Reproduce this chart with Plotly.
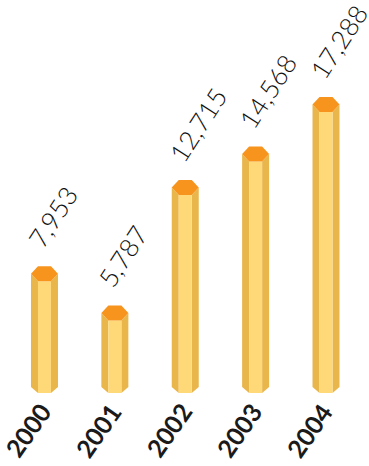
import plotly.graph_objects as go
import numpy as np

years = ["2000", "2001", "2002", "2003", "2004"]
values = [7953, 5787, 12715, 14568, 17288]
value_labels = ["7,953", "5,787", "12,715", "14,568", "17,288"]

W, H = 369, 466
M_L, M_R, M_T, M_B = 0, 0, 0, 73
X_RANGE = [-0.632, 4.611]
Y_RANGE = [955, 22649]

plot_w = W - M_L - M_R
plot_h = H - M_T - M_B
ux = (X_RANGE[1] - X_RANGE[0]) / plot_w   # data units per px (x)
uy = (Y_RANGE[1] - Y_RANGE[0]) / plot_h   # data units per px (y)

HALF_W = 13.5   # px
HALF_F = 6.5    # px front face half width
CAP_H = 15      # px hexagon height
BEVEL = 6       # px

C_TOP = "#F7941E"
C_FRONT = "#FFD978"
C_SIDE = "#E9B64C"

fig = go.Figure()
base = Y_RANGE[0]
for i, v in enumerate(values):
    cx = i
    xo = HALF_W * ux
    xf = HALF_F * ux
    mid = v - CAP_H / 2 * uy
    bot_cap = v - CAP_H * uy
    bev = BEVEL * uy
    fig.add_trace(go.Scatter(
        x=[cx - xo, cx - xf, cx - xf, cx - xo, cx - xo],
        y=[mid, bot_cap, base, base + bev, mid],
        fill="toself", fillcolor=C_SIDE, mode="lines", line=dict(width=0),
        hoverinfo="skip", showlegend=False))
    fig.add_trace(go.Scatter(
        x=[cx + xo, cx + xf, cx + xf, cx + xo, cx + xo],
        y=[mid, bot_cap, base, base + bev, mid],
        fill="toself", fillcolor=C_SIDE, mode="lines", line=dict(width=0),
        hoverinfo="skip", showlegend=False))
    fig.add_trace(go.Scatter(
        x=[cx - xf, cx + xf, cx + xf, cx - xf, cx - xf],
        y=[bot_cap, bot_cap, base, base, bot_cap],
        fill="toself", fillcolor=C_FRONT, mode="lines", line=dict(width=0),
        hoverinfo="skip", showlegend=False))
    fig.add_trace(go.Scatter(
        x=[cx - xo, cx - xf, cx + xf, cx + xo, cx + xf, cx - xf, cx - xo],
        y=[mid, v, v, mid, bot_cap, bot_cap, mid],
        fill="toself", fillcolor=C_TOP, mode="lines", line=dict(width=0),
        hoverinfo="skip", showlegend=False))
    fig.add_annotation(
        x=cx, y=v, text=value_labels[i], showarrow=False,
        textangle=-57, xanchor="left", yanchor="bottom",
        xshift=-26, yshift=10,
        font=dict(family="Lato", size=26, color="#111111", weight=300))
    fig.add_annotation(
        x=cx, y=0, xref="x", yref="paper", text=years[i], showarrow=False,
        textangle=-55, xanchor="right", yanchor="top",
        xshift=15, yshift=-2,
        font=dict(family="Lato", size=25, color="#1a1a1a", weight="bold"))

fig.update_layout(
    width=W, height=H,
    margin=dict(l=M_L, r=M_R, t=M_T, b=M_B, pad=0),
    paper_bgcolor="white", plot_bgcolor="white",
    xaxis=dict(range=X_RANGE, showticklabels=False, showgrid=False,
               zeroline=False, showline=False, ticks="", fixedrange=True),
    yaxis=dict(range=Y_RANGE, showgrid=False, zeroline=False, showline=False,
               showticklabels=False, ticks="", fixedrange=True),
)

fig.write_html("out.html")
